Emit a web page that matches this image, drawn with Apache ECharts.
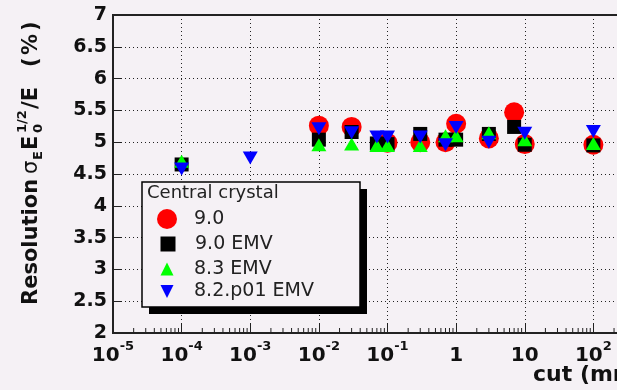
<!DOCTYPE html>
<html>
<head>
<meta charset="utf-8">
<script src="https://cdn.jsdelivr.net/npm/echarts@6.0.0/dist/echarts.min.js"></script>
<style>
  html, body { margin: 0; padding: 0; width: 617px; height: 390px; overflow: hidden; background: #f5f1f5; }
  #chart { width: 700px; height: 390px; }
</style>
</head>
<body>
<div id="chart"></div>
<script>
// cut values (mm) and resolution (%)
const cuts90 = [0.01, 0.03, 0.1, 0.3, 0.7, 1, 3, 7, 10, 100];
const res90 = [5.26, 5.24, 4.99, 5.0, 5.0, 5.29, 5.06, 5.47, 4.97, 4.96];

const cuts90emv = [1e-4, 0.01, 0.03, 0.07, 0.1, 0.3, 0.7, 1, 3, 7, 10, 100];
const res90emv = [4.65, 5.04, 5.16, 4.98, 4.97, 5.13, 5.04, 5.04, 5.13, 5.24, 4.96, 4.95];

const cuts83emv = [1e-4, 0.01, 0.03, 0.07, 0.1, 0.3, 0.7, 1, 3, 10, 100];
const res83emv = [4.70, 4.96, 4.97, 4.95, 4.95, 4.95, 5.1, 5.1, 5.15, 5.04, 4.98];

const cuts82emv = [1e-4, 1e-3, 0.01, 0.03, 0.07, 0.1, 0.3, 0.7, 1, 3, 10, 100];
const res82emv = [4.58, 4.75, 5.21, 5.15, 5.08, 5.08, 5.08, 4.96, 5.23, 5.0, 5.14, 5.17];

const seriesNames = ['9.0', '9.0 EMV', '8.3 EMV', '8.2.p01 EMV'];

const BG = '#f5f1f5';
const FONT = 'DejaVu Sans';
const INK = '#111';

// minor ticks of the log axis: 2..9 x 10^k
const minorTicks = [];
for (let k = -5; k <= 2; k++) {
  for (let m = 2; m <= 9; m++) minorTicks.push([m * Math.pow(10, k), 2]);
}

const zip = (xs, ys) => xs.map((x, i) => [x, ys[i]]);

const SQUARE = 'path://M0,0L10,0L10,10L0,10Z';
const TRI_UP = 'path://M5,0L10,10L0,10Z';
const TRI_DOWN = 'path://M0,0L10,0L5,10Z';

// legend: one small legend per entry, so each icon keeps its own size
const legendSpecs = [
  { name: '9.0', w: 22, h: 20, mid: 219 },
  { name: '9.0 EMV', w: 15, h: 15, mid: 244 },
  { name: '8.3 EMV', w: 15, h: 13, mid: 269 },
  { name: '8.2.p01 EMV', w: 15, h: 13, mid: 291.5 }
];
const legends = legendSpecs.map(s => {
  const left = 168 - s.w / 2;
  return {
    data: [s.name],
    left: left,
    top: s.mid - 11,
    padding: 0,
    itemWidth: s.w,
    itemHeight: s.h,
    selectedMode: false,
    z: 10,
    textStyle: {
      fontFamily: FONT,
      fontSize: 19,
      lineHeight: 22,
      color: '#222',
      padding: [0, 0, 0, 195 - (left + s.w + 5)]
    }
  };
});

// y axis title pieces, laid out along the rotated baseline
const titleParts = [
  { t: 'Resolution', x: 0, dy: 0, size: 21, weight: 'bold' },
  { t: 'σ', x: 131, dy: 0, size: 21, weight: 'normal' },
  { t: 'E', x: 145, dy: 7, size: 13, weight: 'bold' },
  { t: 'E', x: 155, dy: 0, size: 21, weight: 'bold' },
  { t: '0', x: 172, dy: 7, size: 13, weight: 'bold' },
  { t: '1/2', x: 172, dy: -9, size: 13, weight: 'bold' },
  { t: '/E', x: 196, dy: 0, size: 21, weight: 'bold' },
  { t: '(', x: 238, dy: 0, size: 21, weight: 'bold' },
  { t: '%', x: 250, dy: 0, size: 21, weight: 'bold' },
  { t: ')', x: 274, dy: 0, size: 21, weight: 'bold' }
];

const chart = echarts.init(document.getElementById('chart'));

const option = {
  backgroundColor: BG,
  animation: false,
  grid: {
    left: 113,
    right: 38,
    top: 15,
    bottom: 57,
    show: true,
    borderColor: '#222',
    borderWidth: 2,
    backgroundColor: 'transparent'
  },
  legend: legends,
  xAxis: {
    type: 'log',
    logBase: 10,
    min: 1e-5,
    max: 1e3,
    splitNumber: 10,
    axisLine: { show: false },
    axisTick: { show: true, inside: true, length: 9, lineStyle: { color: '#222', width: 1 } },
    splitLine: { show: true, lineStyle: { color: '#222', width: 1, type: [1, 3] } },
    axisLabel: {
      margin: 7,
      formatter: v => {
        const e = Math.round(Math.log10(v));
        if (e === 0) return '{b|1}';
        if (e === 1) return '{b|10}';
        return '{b|10}{s|' + e + '}';
      },
      rich: {
        b: { fontFamily: FONT, fontWeight: 'bold', fontSize: 20, lineHeight: 26, color: INK, verticalAlign: 'bottom' },
        s: { fontFamily: FONT, fontWeight: 'bold', fontSize: 13, lineHeight: 14, color: INK, verticalAlign: 'top' }
      }
    }
  },
  yAxis: {
    type: 'value',
    min: 2,
    max: 7,
    interval: 0.5,
    axisLine: { show: false },
    axisTick: { show: true, inside: true, length: 9, lineStyle: { color: '#222', width: 1 } },
    splitLine: { show: true, lineStyle: { color: '#222', width: 1, type: [1, 3] } },
    axisLabel: {
      margin: 6,
      fontFamily: FONT,
      fontWeight: 'bold',
      fontSize: 19,
      color: INK
    }
  },
  graphic: [
    {
      type: 'rect', z: 5,
      shape: { x: 149, y: 189, width: 218, height: 125 },
      style: { fill: '#000' }
    },
    {
      type: 'rect', z: 6,
      shape: { x: 142, y: 182, width: 218, height: 125 },
      style: { fill: BG, stroke: '#000', lineWidth: 1.5 }
    },
    {
      type: 'text', z: 10, x: 147, y: 193,
      style: {
        text: 'Central crystal', fontFamily: FONT, fontSize: 18, fill: '#222',
        textAlign: 'left', textVerticalAlign: 'middle', align: 'left', verticalAlign: 'middle'
      }
    },
    {
      type: 'text', z: 10, x: 533, y: 375,
      style: {
        text: 'cut (mm)', fontFamily: FONT, fontWeight: 'bold', fontSize: 22, fill: INK,
        textAlign: 'left', textVerticalAlign: 'middle', align: 'left', verticalAlign: 'middle'
      }
    },
    {
      type: 'group', x: 32, y: 305, rotation: Math.PI / 2,
      children: titleParts.map(p => ({
        type: 'text', x: p.x, y: p.dy,
        style: {
          text: p.t, fontFamily: FONT, fontWeight: p.weight, fontSize: p.size, fill: INK,
          textAlign: 'left', textVerticalAlign: 'middle', align: 'left', verticalAlign: 'middle'
        }
      }))
    }
  ],
  series: [
    {
      type: 'custom',
      silent: true,
      data: minorTicks,
      encode: { x: 0, y: 1 },
      renderItem: (params, api) => {
        const p = api.coord([api.value(0), api.value(1)]);
        return {
          type: 'line',
          shape: { x1: p[0], y1: p[1], x2: p[0], y2: p[1] - 5 },
          style: { stroke: '#222', lineWidth: 1 }
        };
      }
    },
    {
      name: seriesNames[0], type: 'scatter', data: zip(cuts90, res90),
      symbol: 'circle', symbolSize: 20,
      itemStyle: { color: '#ff0000', opacity: 1 }
    },
    {
      name: seriesNames[1], type: 'scatter', data: zip(cuts90emv, res90emv),
      symbol: SQUARE, symbolSize: 14,
      itemStyle: { color: '#000000', opacity: 1 }
    },
    {
      name: seriesNames[2], type: 'scatter', data: zip(cuts83emv, res83emv),
      symbol: TRI_UP, symbolSize: [15, 13],
      itemStyle: { color: '#00ff00', opacity: 1 }
    },
    {
      name: seriesNames[3], type: 'scatter', data: zip(cuts82emv, res82emv),
      symbol: TRI_DOWN, symbolSize: [15, 13],
      itemStyle: { color: '#0000ff', opacity: 1 }
    }
  ]
};

chart.setOption(option);
</script>
</body>
</html>
